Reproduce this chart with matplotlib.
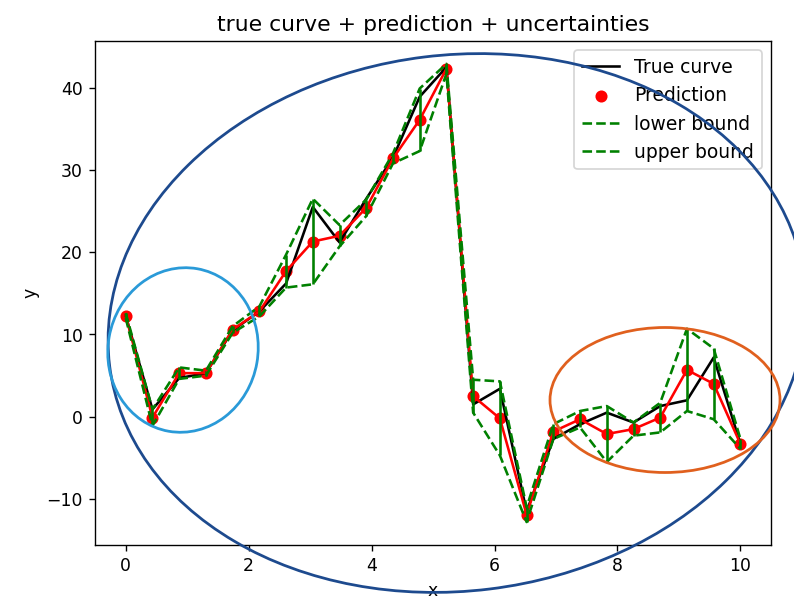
import numpy as np
import matplotlib
matplotlib.use("Agg")
import matplotlib.pyplot as plt
from matplotlib.patches import Ellipse

x = np.linspace(0, 10, 24)
true_y = [12.3, 0.9, 4.7, 5.3, 10.5, 12.8, 16.2, 25.5, 21.2, 26.5, 31.5, 38.9,
          42.5, 1.5, 3.4, -11.5, -2.7, -0.9, 0.5, -0.7, 1.3, 2.0, 7.2, -3.3]
pred = [12.3, -0.1, 5.3, 5.3, 10.6, 12.8, 17.7, 21.3, 22.0, 25.4, 31.4, 36.1,
        42.3, 2.5, -0.2, -11.9, -1.8, -0.3, -2.1, -1.5, -0.1, 5.7, 4.0, -3.3]
lower = [12.0, -1.1, 4.6, 5.0, 10.2, 12.2, 15.7, 16.1, 20.7, 24.4, 30.8, 32.3,
         41.7, 0.5, -4.7, -12.8, -2.7, -1.3, -5.5, -2.3, -1.9, 0.7, -0.3, -3.9]
upper = [12.6, 0.9, 6.0, 5.6, 11.0, 13.4, 19.7, 26.5, 23.3, 26.4, 32.0, 39.9,
         42.9, 4.5, 4.3, -11.0, -0.9, 0.7, 1.3, -0.7, 1.7, 10.7, 8.3, -2.7]

DPI = 124
fig = plt.figure(figsize=(6.404, 4.831), dpi=DPI)
ax = fig.add_axes([0.1196, 0.0902, 0.8515, 0.8414])

ax.plot(x, true_y, color="black", label="True curve")
ax.plot(x, pred, color="red")
ax.scatter(x, pred, color="red", label="Prediction")
ax.plot(x, lower, "g--", label="lower bound")
ax.plot(x, upper, "g--", label="upper bound")
ax.vlines(x, lower, upper, color="green")

ax.set_xlabel("x")
ax.set_ylabel("y")
ax.set_title("true curve + prediction + uncertainties", fontsize=12.7)
ax.legend(loc="upper right", fontsize=10.9)


# highlight rings, given in pixels from the top-left corner
def ring(cx, cy, w, h, angle, color):
    e = Ellipse((cx / DPI, (599 - cy) / DPI), w / DPI, h / DPI, angle=angle,
                fill=False, edgecolor=color, linewidth=1.6,
                transform=fig.dpi_scale_trans, clip_on=False)
    fig.add_artist(e)


ring(457, 323, 700, 536, 7, "#1d4a8e")
ring(183, 350, 150, 165, -10, "#2a9ad8")
ring(665, 400, 230, 145, 0, "#e0601e")

fig.savefig("out.png", dpi=DPI)
